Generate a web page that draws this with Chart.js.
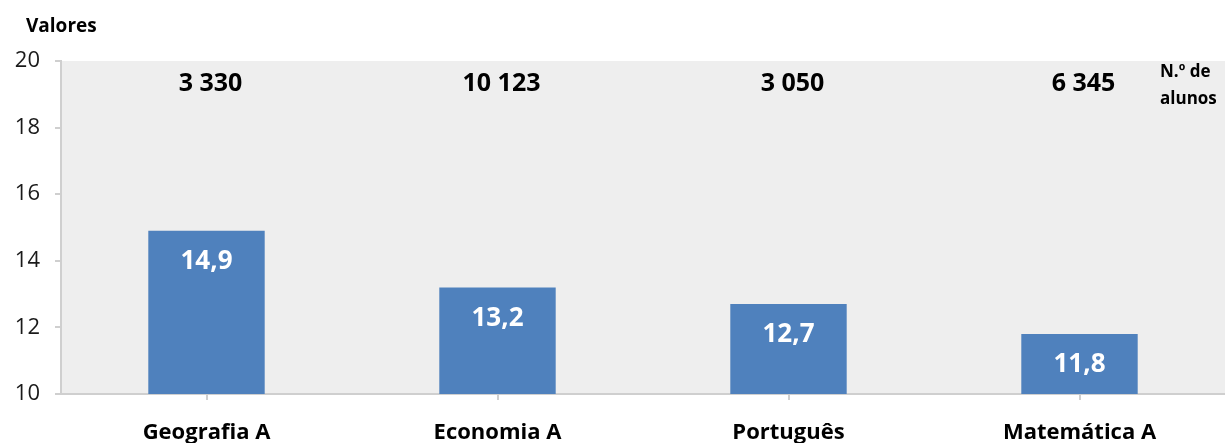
<!DOCTYPE html>
<html>
<head>
<meta charset="utf-8">
<script src="https://cdn.jsdelivr.net/npm/chart.js@4/dist/chart.umd.min.js"></script>
<style>
  html, body { margin: 0; padding: 0; background: #ffffff; }
  #wrap { width: 1225px; height: 443px; position: relative; }
</style>
</head>
<body>
<div id="wrap"><canvas id="myChart"></canvas></div>
<script>
const disciplinas = ["Geografia A", "Economia A", "Português", "Matemática A"];
const medias = [14.9, 13.2, 12.7, 11.8];
const alunos = ["3 330", "10 123", "3 050", "6 345"];
const yTicks = [10, 12, 14, 16, 18, 20];

const FONT = "'Open Sans', 'Liberation Sans', sans-serif";

// fundo cinzento da área do gráfico
const plotBg = {
  id: 'plotBg',
  beforeDraw(chart) {
    const {ctx, chartArea: a} = chart;
    ctx.save();
    ctx.fillStyle = '#eeeeee';
    ctx.fillRect(a.left, a.top, a.right - a.left, a.bottom - a.top);
    ctx.restore();
  }
};

// textos: Valores, n.º de alunos, valores dentro das barras
const textos = {
  id: 'textos',
  afterDatasetsDraw(chart) {
    const {ctx, scales: {x, y}} = chart;
    ctx.save();
    ctx.fillStyle = '#000';
    ctx.textBaseline = 'middle';
    ctx.font = "bold 19px " + FONT;
    ctx.textAlign = 'left';
    ctx.fillText("Valores", 26, 27);
    ctx.font = "bold 17px " + FONT;
    ctx.fillText("N.º de", 1160, 72);
    ctx.fillText("alunos", 1160, 99);

    ctx.textAlign = 'center';
    ctx.font = "bold 25px " + FONT;
    alunos.forEach((n, i) => {
      ctx.fillText(n, x.getPixelForValue(i) + 4, 84);
    });

    ctx.fillStyle = '#fff';
    ctx.font = "bold 26px " + FONT;
    const meta = chart.getDatasetMeta(0);
    meta.data.forEach((bar, i) => {
      ctx.fillText(medias[i].toFixed(1).replace('.', ','), bar.x, bar.y + 31);
    });
    ctx.restore();
  }
};

new Chart(document.getElementById('myChart'), {
  type: 'bar',
  data: {
    labels: disciplinas,
    datasets: [{
      data: medias,
      backgroundColor: '#4f81bd',
      borderWidth: 0,
      categoryPercentage: 1,
      barPercentage: 0.4
    }]
  },
  options: {
    responsive: true,
    maintainAspectRatio: false,
    animation: false,
    layout: { padding: { top: 61, right: 0, left: 0, bottom: 0 } },
    plugins: { legend: { display: false }, tooltip: { enabled: false } },
    scales: {
      x: {
        offset: true,
        grid: { offset: false, drawOnChartArea: false, drawTicks: true, tickLength: 6, color: '#cfcfcf', lineWidth: 2 },
        border: { color: '#cfcfcf', width: 2 },
        ticks: { color: '#000', font: { family: FONT, size: 22, weight: 'bold' }, padding: 20 },
        afterFit(s) { s.height = 49; }
      },
      y: {
        min: 10, max: 20,
        afterBuildTicks(s) { s.ticks = yTicks.map(v => ({ value: v })); },
        grid: { drawOnChartArea: false, drawTicks: true, tickLength: 6, color: '#cfcfcf', lineWidth: 2 },
        border: { color: '#cfcfcf', width: 2 },
        ticks: { color: '#1a1a1a', font: { family: FONT, size: 22 }, padding: 15 },
        afterFit(s) { s.width = 61; }
      }
    }
  },
  plugins: [plotBg, textos]
});
</script>
</body>
</html>
